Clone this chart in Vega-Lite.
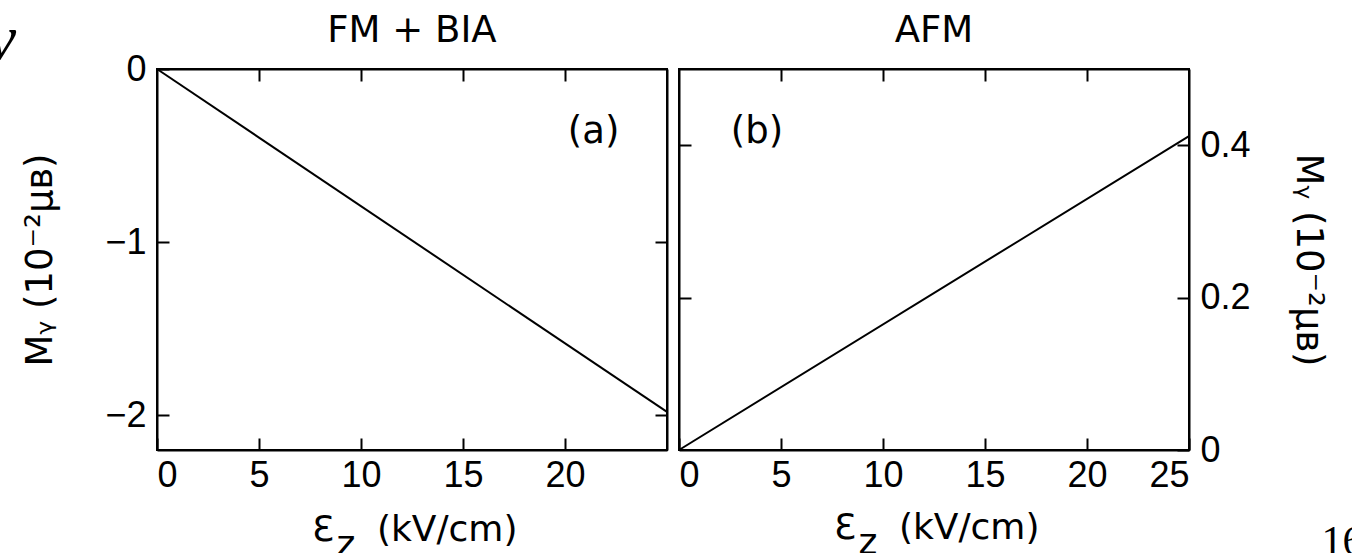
{
  "$schema": "https://vega.github.io/schema/vega-lite/v6.json",
  "background": "white",
  "padding": {"left": -14, "top": 6, "right": 0, "bottom": 0},
  "spacing": 2,
  "datasets": {
    "fm": [{"field": 0, "m": 0}, {"field": 25, "m": -1.98}],
    "afm": [{"field": 0, "m": 0}, {"field": 25, "m": 0.412}],
    "headA": [{"field": 12.5, "m": 0.157, "tag": "FM + BIA"}],
    "headB": [{"field": 12.5, "m": 0.535, "tag": "AFM"}],
    "footA": [
      {"field": 7.6, "m": -2.725, "tag": "Ɛ"},
      {"field": 8.8, "m": -2.812, "tag": "z"},
      {"field": 10.78, "m": -2.725, "tag": "(kV/cm)"}
    ],
    "footB": [
      {"field": 7.6, "m": -0.1168, "tag": "Ɛ"},
      {"field": 8.8, "m": -0.1365, "tag": "z"},
      {"field": 10.78, "m": -0.1168, "tag": "(kV/cm)"}
    ],
    "tagA": [{"field": 21.4, "m": -0.365, "tag": "(a)"}],
    "tagB": [{"field": 3.82, "m": 0.417, "tag": "(b)"}],
    "edgeL": [{"field": -6.9, "m": 0.058, "tag": "v"}],
    "edgeR": [{"field": 31.5, "m": -0.138, "tag": "16"}]
  },
  "config": {
    "font": "DejaVu Sans",
    "view": {"stroke": "black", "strokeWidth": 2},
    "axis": {
      "grid": false,
      "domainColor": "black",
      "domainWidth": 2,
      "tickColor": "black",
      "tickWidth": 2,
      "tickSize": -12,
      "labelColor": "black",
      "labelFontSize": 36,
      "labelFont": "Liberation Sans",
      "labelPadding": 20,
      "titleColor": "black",
      "titleFontSize": 37,
      "titleFont": "DejaVu Sans",
      "titleFontWeight": "normal"
    },
    "text": {"font": "DejaVu Sans", "fontSize": 37, "color": "black"}
  },
  "hconcat": [
    {
      "width": 510,
      "height": 381,
      "resolve": {"axis": {"x": "independent", "y": "independent"}},
      "layer": [
        {
          "data": {"name": "fm"},
          "mark": {"type": "line", "color": "black", "strokeWidth": 2},
          "encoding": {
            "x": {"field": "field", "type": "quantitative",
                  "scale": {"domain": [0, 25], "nice": false, "zero": false},
                  "axis": {"orient": "bottom", "values": [0, 5, 10, 15, 20], "format": "d", "title": null}},
            "y": {"field": "m", "type": "quantitative",
                  "scale": {"domain": [-2.2, 0], "nice": false, "zero": false},
                  "axis": {"orient": "left", "values": [0, -1, -2], "format": "d", "labelPadding": 23, "title": "Mᵧ  (10⁻²μʙ)", "titlePadding": 45}}
          }
        },
        {
          "data": {"name": "fm"},
          "mark": {"type": "line", "strokeOpacity": 0},
          "encoding": {
            "x": {"field": "field", "type": "quantitative",
                  "axis": {"orient": "top", "values": [5, 10, 15, 20], "labels": false, "title": null}},
            "y": {"field": "m", "type": "quantitative",
                  "axis": {"orient": "right", "values": [-1, -2], "labels": false, "title": null}}
          }
        },
        {
          "data": {"name": "headA"},
          "mark": {"type": "text", "align": "center", "baseline": "alphabetic", "clip": false},
          "encoding": {
            "x": {"field": "field", "type": "quantitative", "axis": null},
            "y": {"field": "m", "type": "quantitative", "axis": null},
            "text": {"field": "tag"}
          }
        },
        {
          "data": {"name": "footA"},
          "mark": {"type": "text", "align": "left", "baseline": "alphabetic", "fontSize": 36, "clip": false},
          "encoding": {
            "x": {"field": "field", "type": "quantitative", "axis": null},
            "y": {"field": "m", "type": "quantitative", "axis": null},
            "text": {"field": "tag"}
          }
        },
        {
          "data": {"name": "tagA"},
          "mark": {"type": "text", "align": "center", "baseline": "middle"},
          "encoding": {
            "x": {"field": "field", "type": "quantitative", "axis": null},
            "y": {"field": "m", "type": "quantitative", "axis": null},
            "text": {"field": "tag"}
          }
        },
        {
          "data": {"name": "edgeL"},
          "mark": {"type": "text", "font": "Liberation Serif", "fontStyle": "italic", "fontSize": 64, "align": "right", "baseline": "alphabetic", "clip": false},
          "encoding": {
            "x": {"field": "field", "type": "quantitative", "axis": null},
            "y": {"field": "m", "type": "quantitative", "axis": null},
            "text": {"field": "tag"}
          }
        }
      ]
    },
    {
      "width": 510,
      "height": 381,
      "resolve": {"axis": {"x": "independent", "y": "independent"}},
      "layer": [
        {
          "data": {"name": "afm"},
          "mark": {"type": "line", "color": "black", "strokeWidth": 2},
          "encoding": {
            "x": {"field": "field", "type": "quantitative",
                  "scale": {"domain": [0, 25], "nice": false, "zero": false},
                  "axis": {"orient": "bottom", "values": [0, 5, 10, 15, 20, 25], "format": "d", "title": null}},
            "y": {"field": "m", "type": "quantitative",
                  "scale": {"domain": [0, 0.5], "nice": false, "zero": false},
                  "axis": {"orient": "right", "values": [0, 0.2, 0.4], "format": ".1~f", "labelPadding": 23, "title": "Mᵧ  (10⁻²μʙ)", "titleAngle": 90, "titlePadding": 38}}
          }
        },
        {
          "data": {"name": "afm"},
          "mark": {"type": "line", "strokeOpacity": 0},
          "encoding": {
            "x": {"field": "field", "type": "quantitative",
                  "axis": {"orient": "top", "values": [5, 10, 15, 20], "labels": false, "title": null}},
            "y": {"field": "m", "type": "quantitative",
                  "axis": {"orient": "left", "values": [0.2, 0.4], "labels": false, "title": null}}
          }
        },
        {
          "data": {"name": "headB"},
          "mark": {"type": "text", "align": "center", "baseline": "alphabetic", "clip": false},
          "encoding": {
            "x": {"field": "field", "type": "quantitative", "axis": null},
            "y": {"field": "m", "type": "quantitative", "axis": null},
            "text": {"field": "tag"}
          }
        },
        {
          "data": {"name": "footB"},
          "mark": {"type": "text", "align": "left", "baseline": "alphabetic", "fontSize": 36, "clip": false},
          "encoding": {
            "x": {"field": "field", "type": "quantitative", "axis": null},
            "y": {"field": "m", "type": "quantitative", "axis": null},
            "text": {"field": "tag"}
          }
        },
        {
          "data": {"name": "tagB"},
          "mark": {"type": "text", "align": "center", "baseline": "middle"},
          "encoding": {
            "x": {"field": "field", "type": "quantitative", "axis": null},
            "y": {"field": "m", "type": "quantitative", "axis": null},
            "text": {"field": "tag"}
          }
        },
        {
          "data": {"name": "edgeR"},
          "mark": {"type": "text", "font": "Liberation Serif", "fontSize": 42, "align": "left", "baseline": "alphabetic", "clip": false},
          "encoding": {
            "x": {"field": "field", "type": "quantitative", "axis": null},
            "y": {"field": "m", "type": "quantitative", "axis": null},
            "text": {"field": "tag"}
          }
        }
      ]
    }
  ]
}
